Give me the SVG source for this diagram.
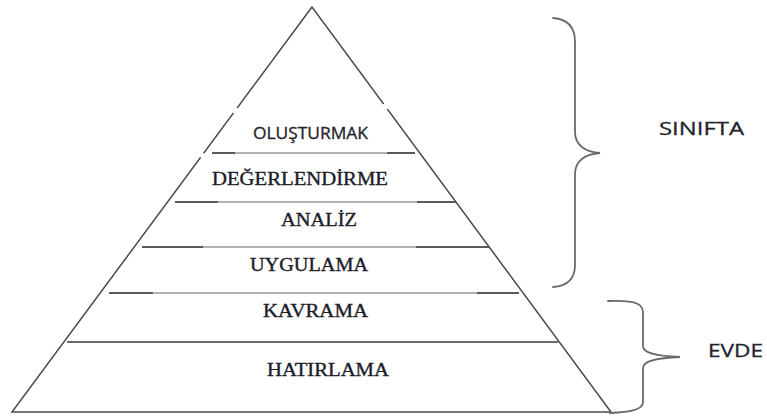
<svg xmlns="http://www.w3.org/2000/svg" width="767" height="416" viewBox="0 0 767 416">
<style>
.edge{fill:none;stroke:#4a4a4a;stroke-width:1.5;stroke-linejoin:miter}
.gap{stroke:#ffffff;stroke-width:3.2}
.div{stroke:#9a9a9a;stroke-width:1.6}
.dend{stroke:#5a5a5a;stroke-width:2}
.brace{fill:none;stroke:#6a6a6a;stroke-width:1.8;stroke-linecap:round}
.serif{font-family:"Liberation Serif","Times New Roman",serif;font-size:18px;fill:#1c1c2a;stroke:#1c1c2a;stroke-width:0.35}
.sans{font-family:"Open Sans","Liberation Sans",Arial,sans-serif;fill:#23232e;stroke:#23232e;stroke-width:0.3}
</style>
<rect width="767" height="416" fill="#ffffff"/>
<g id="pyramid">
  <polygon class="edge" points="312,7 12,412 611,412"/>
  <line class="gap" x1="237.2" y1="108" x2="233.5" y2="113"/>
  <line class="gap" x1="203.9" y1="153.5" x2="200.9" y2="157.5"/>
  <line class="gap" x1="383.6" y1="104" x2="387.3" y2="109"/>
</g>
<g id="dividers">
  <line class="div" x1="212" y1="153" x2="415" y2="153"/>
  <line class="dend" x1="212" y1="153" x2="235" y2="153"/>
  <line class="dend" x1="387" y1="153" x2="415" y2="153"/>
  <line class="div" x1="175" y1="202" x2="456" y2="202"/>
  <line class="dend" x1="175" y1="202" x2="218" y2="202"/>
  <line class="dend" x1="417" y1="202" x2="456" y2="202"/>
  <line class="div" x1="142" y1="247" x2="489" y2="247"/>
  <line class="dend" x1="142" y1="247" x2="203" y2="247"/>
  <line class="dend" x1="416" y1="247" x2="489" y2="247"/>
  <line class="div" x1="109" y1="293" x2="519" y2="293"/>
  <line class="dend" x1="109" y1="293" x2="153" y2="293"/>
  <line class="dend" x1="477" y1="293" x2="519" y2="293"/>
  <line class="dend" x1="67" y1="342" x2="558" y2="342" style="stroke:#6a6a6a;stroke-width:1.8"/>
</g>
<g id="olusturmak"><text class="sans" x="253" y="138.5" font-size="16" textLength="115" lengthAdjust="spacingAndGlyphs">OLUŞTURMAK</text></g>
<g id="degerlendirme"><text class="serif" x="212" y="184.5" textLength="176" lengthAdjust="spacingAndGlyphs">DEĞERLENDİRME</text></g>
<g id="analiz"><text class="serif" x="281" y="226" textLength="76" lengthAdjust="spacingAndGlyphs">ANALİZ</text></g>
<g id="uygulama"><text class="serif" x="250" y="270.5" textLength="118" lengthAdjust="spacingAndGlyphs">UYGULAMA</text></g>
<g id="kavrama"><text class="serif" x="263" y="317" textLength="105" lengthAdjust="spacingAndGlyphs">KAVRAMA</text></g>
<g id="hatirlama"><text class="serif" x="267" y="376" textLength="122" lengthAdjust="spacingAndGlyphs">HATIRLAMA</text></g>
<g id="connectors">
  <path class="brace" d="M553,18 C568,19 575,28 575,42 L575,132 C575,145 585,152 600,153 C585,154 575,161 575,174 L575,265 C575,279 568,286 553,287"/>
  <path class="brace" d="M608,301 C630,300 643,302 643,312 L643,346 C643,353 655,356 680,357 C655,358 643,361 643,368 L643,402 C643,410 630,412 610,413"/>
</g>
<g id="sinifta"><text class="sans" x="659" y="134.5" font-size="18" textLength="85" lengthAdjust="spacingAndGlyphs">SINIFTA</text></g>
<g id="evde"><text class="sans" x="708" y="357" font-size="18" textLength="55" lengthAdjust="spacingAndGlyphs">EVDE</text></g>
</svg>
